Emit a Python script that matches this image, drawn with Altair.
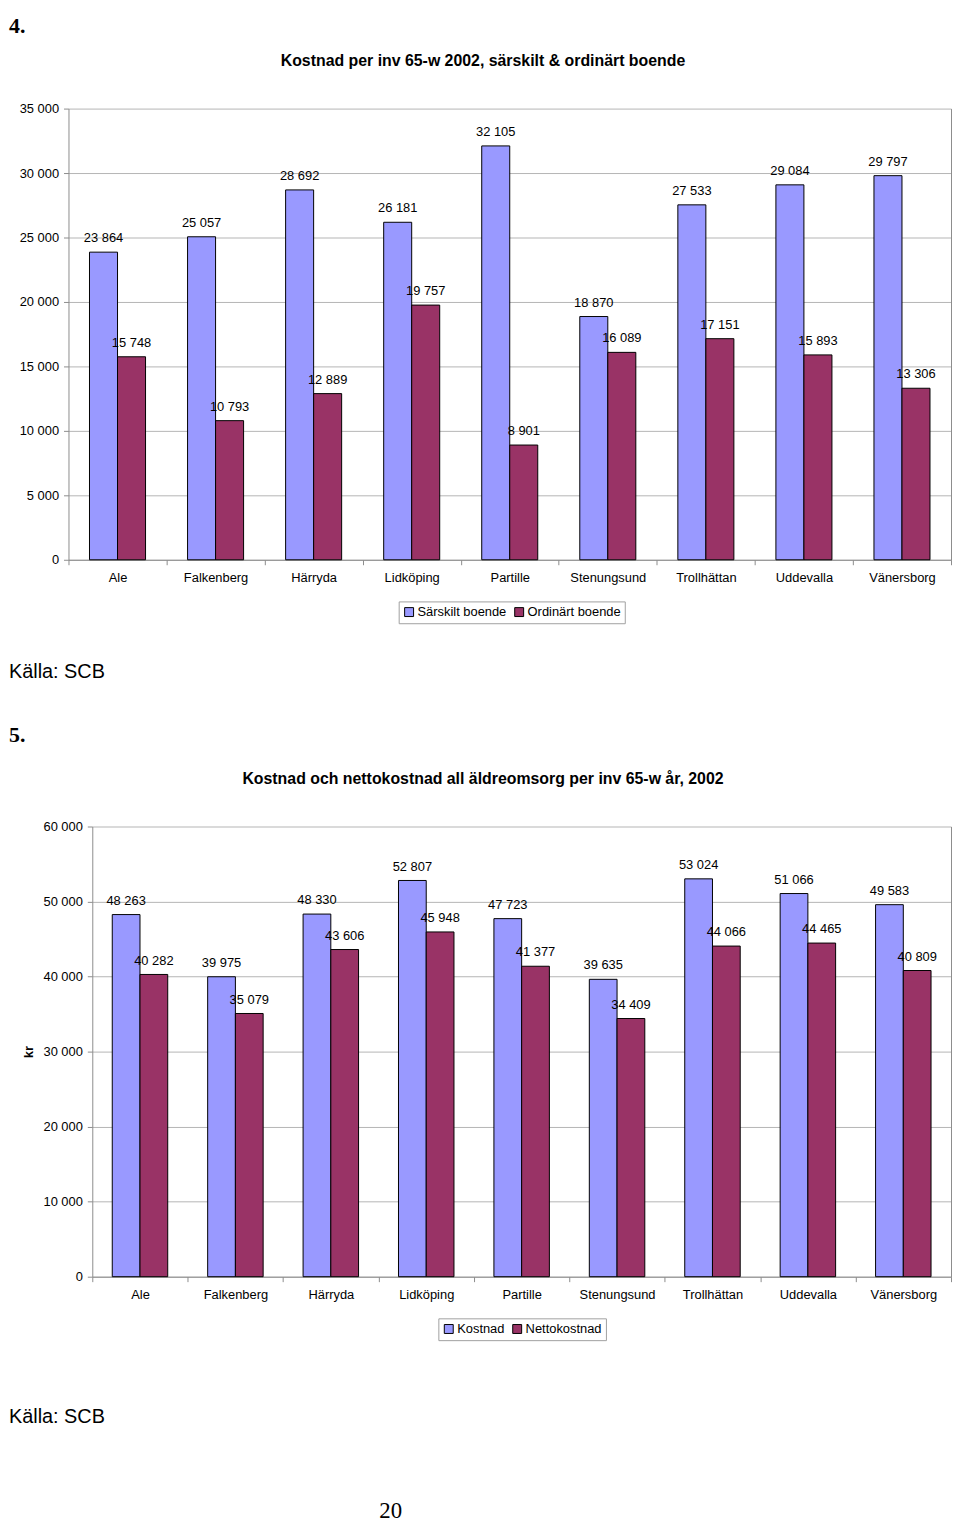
import altair as alt
import pandas as pd

# ---------------- data ----------------
municipalities = ["Ale", "Falkenberg", "Härryda", "Lidköping", "Partille",
                  "Stenungsund", "Trollhättan", "Uddevalla", "Vänersborg"]

series1 = ["Särskilt boende", "Ordinärt boende"]
sarskilt = [23864, 25057, 28692, 26181, 32105, 18870, 27533, 29084, 29797]
ordinart = [15748, 10793, 12889, 19757, 8901, 16089, 17151, 15893, 13306]

series2 = ["Kostnad", "Nettokostnad"]
kostnad = [48263, 39975, 48330, 52807, 47723, 39635, 53024, 51066, 49583]
netto = [40282, 35079, 43606, 45948, 41377, 34409, 44066, 44465, 40809]

y1_ticks = [0, 5000, 10000, 15000, 20000, 25000, 30000, 35000]
y2_ticks = [0, 10000, 20000, 30000, 40000, 50000, 60000]

colors = ["#9999FF", "#993366"]

heading1 = "4."
heading2 = "5."
title1 = "Kostnad per inv 65-w 2002, särskilt & ordinärt boende"
title2 = "Kostnad och nettokostnad all äldreomsorg per inv 65-w år, 2002"
source_note = "Källa: SCB"
y2_title = "kr"
page_number = "20"

SANS = "Liberation Sans"
SERIF = "Liberation Serif"
GRAY = "#8c8c8c"
LABEL_EXPR = "replace(format(datum.value, ','), ',', ' ')"


def long_table(series, a, b):
    rows = []
    for i, m in enumerate(municipalities):
        rows.append({"kommun": m, "serie": series[0], "value": a[i]})
        rows.append({"kommun": m, "serie": series[1], "value": b[i]})
    return pd.DataFrame(rows)


def text_layer(txt, x, y, size, font=SANS, weight="normal", align="left"):
    return alt.Chart(pd.DataFrame({"t": [txt]})).mark_text(
        font=font, fontSize=size, fontWeight=weight, align=align,
        baseline="middle", color="black"
    ).encode(text="t:N", x=alt.value(x), y=alt.value(y))


def bar_panel(df, series, ticks, ymax, height, x0, pad_outer, legend_xy,
              y_axis_extra, extra_layers):
    W = 890
    xscale = alt.Scale(domain=municipalities, range=[x0, W],
                       paddingInner=0, paddingOuter=0)
    oscale = alt.Scale(domain=series, paddingInner=0, paddingOuter=pad_outer)
    yscale = alt.Scale(domain=[0, ymax], nice=False)
    base = alt.Chart(df).transform_calculate(
        lbl="replace(format(datum.value, ','), ',', ' ')"
    )
    bars = base.mark_bar(stroke="black", strokeWidth=1).encode(
        x=alt.X("kommun:N", scale=xscale, title=None,
                axis=alt.Axis(labelAngle=0, tickBand="extent", labelPadding=7,
                              tickSize=5, grid=False)),
        xOffset=alt.XOffset("serie:N", scale=oscale),
        y=alt.Y("value:Q", scale=yscale,
                axis=alt.Axis(values=ticks, labelExpr=LABEL_EXPR, grid=True,
                              tickSize=5, labelPadding=5, **y_axis_extra)),
        color=alt.Color("serie:N", scale=alt.Scale(domain=series, range=colors),
                        title=None,
                        legend=alt.Legend(orient="none", legendX=legend_xy[0],
                                          legendY=legend_xy[1],
                                          direction="horizontal",
                                          strokeColor="#a0a0a0", padding=4,
                                          symbolType="square", symbolSize=81,
                                          symbolStrokeColor="black",
                                          symbolStrokeWidth=1,
                                          symbolOpacity=1,
                                          labelFont=SANS, labelFontSize=13,
                                          labelColor="black",
                                          labelOffset=2, columnPadding=6)),
    )
    labels = base.mark_text(font=SANS, fontSize=13, baseline="middle",
                            dy=-14, color="black").encode(
        x=alt.X("kommun:N"),
        xOffset=alt.XOffset("serie:N", scale=oscale),
        y=alt.Y("value:Q", title=None,
                axis=alt.Axis(orient="right", labels=False, ticks=False,
                              grid=False, domain=True, minExtent=0,
                              maxExtent=0)),
        text=alt.Text("lbl:N"),
    )
    return alt.layer(bars, labels, *extra_layers).resolve_axis(
        y="independent").properties(width=W, height=height)


df1 = long_table(series1, sarskilt, ordinart)
df2 = long_table(series2, kostnad, netto)

chart1 = bar_panel(
    df1, series1, y1_ticks, 35000, 455, 0, 0.75, (333, 497),
    {"title": None},
    [
        text_layer(heading1, -60, -83, 22, font=SERIF, weight="bold"),
        text_layer(title1, 418, -48, 16, weight="bold", align="center"),
        text_layer(source_note, -60, 568, 20),
    ],
)

chart2 = bar_panel(
    df2, series2, y2_ticks, 60000, 454, 24, 0.72, (373, 496),
    {"title": y2_title, "offset": -24, "titleX": -64, "titleY": 227,
     "titleAngle": 270, "titleAlign": "center", "titleBaseline": "middle",
     "titleFont": SANS, "titleFontSize": 13, "titleFontWeight": "bold",
     "titleColor": "black"},
    [
        text_layer(heading2, -60, -92, 22, font=SERIF, weight="bold"),
        text_layer(title2, 418, -48, 16, weight="bold", align="center"),
        text_layer(source_note, -60, 596, 20),
        text_layer(page_number, 325, 690, 23, font=SERIF, align="center"),
    ],
)

chart = alt.vconcat(chart1, chart2, spacing=41).resolve_scale(
    color="independent", xOffset="independent"
).properties(
    padding=0
).configure(
    font=SANS,
).configure_view(
    stroke="transparent"
).configure_axis(
    labelFont=SANS, labelFontSize=13, labelColor="black",
    domainColor=GRAY, tickColor=GRAY, gridColor="#b4b4b4",
    domainWidth=1, tickWidth=1, gridWidth=1,
)

chart.save("out.html", embed_options={"renderer": "svg", "actions": False})
